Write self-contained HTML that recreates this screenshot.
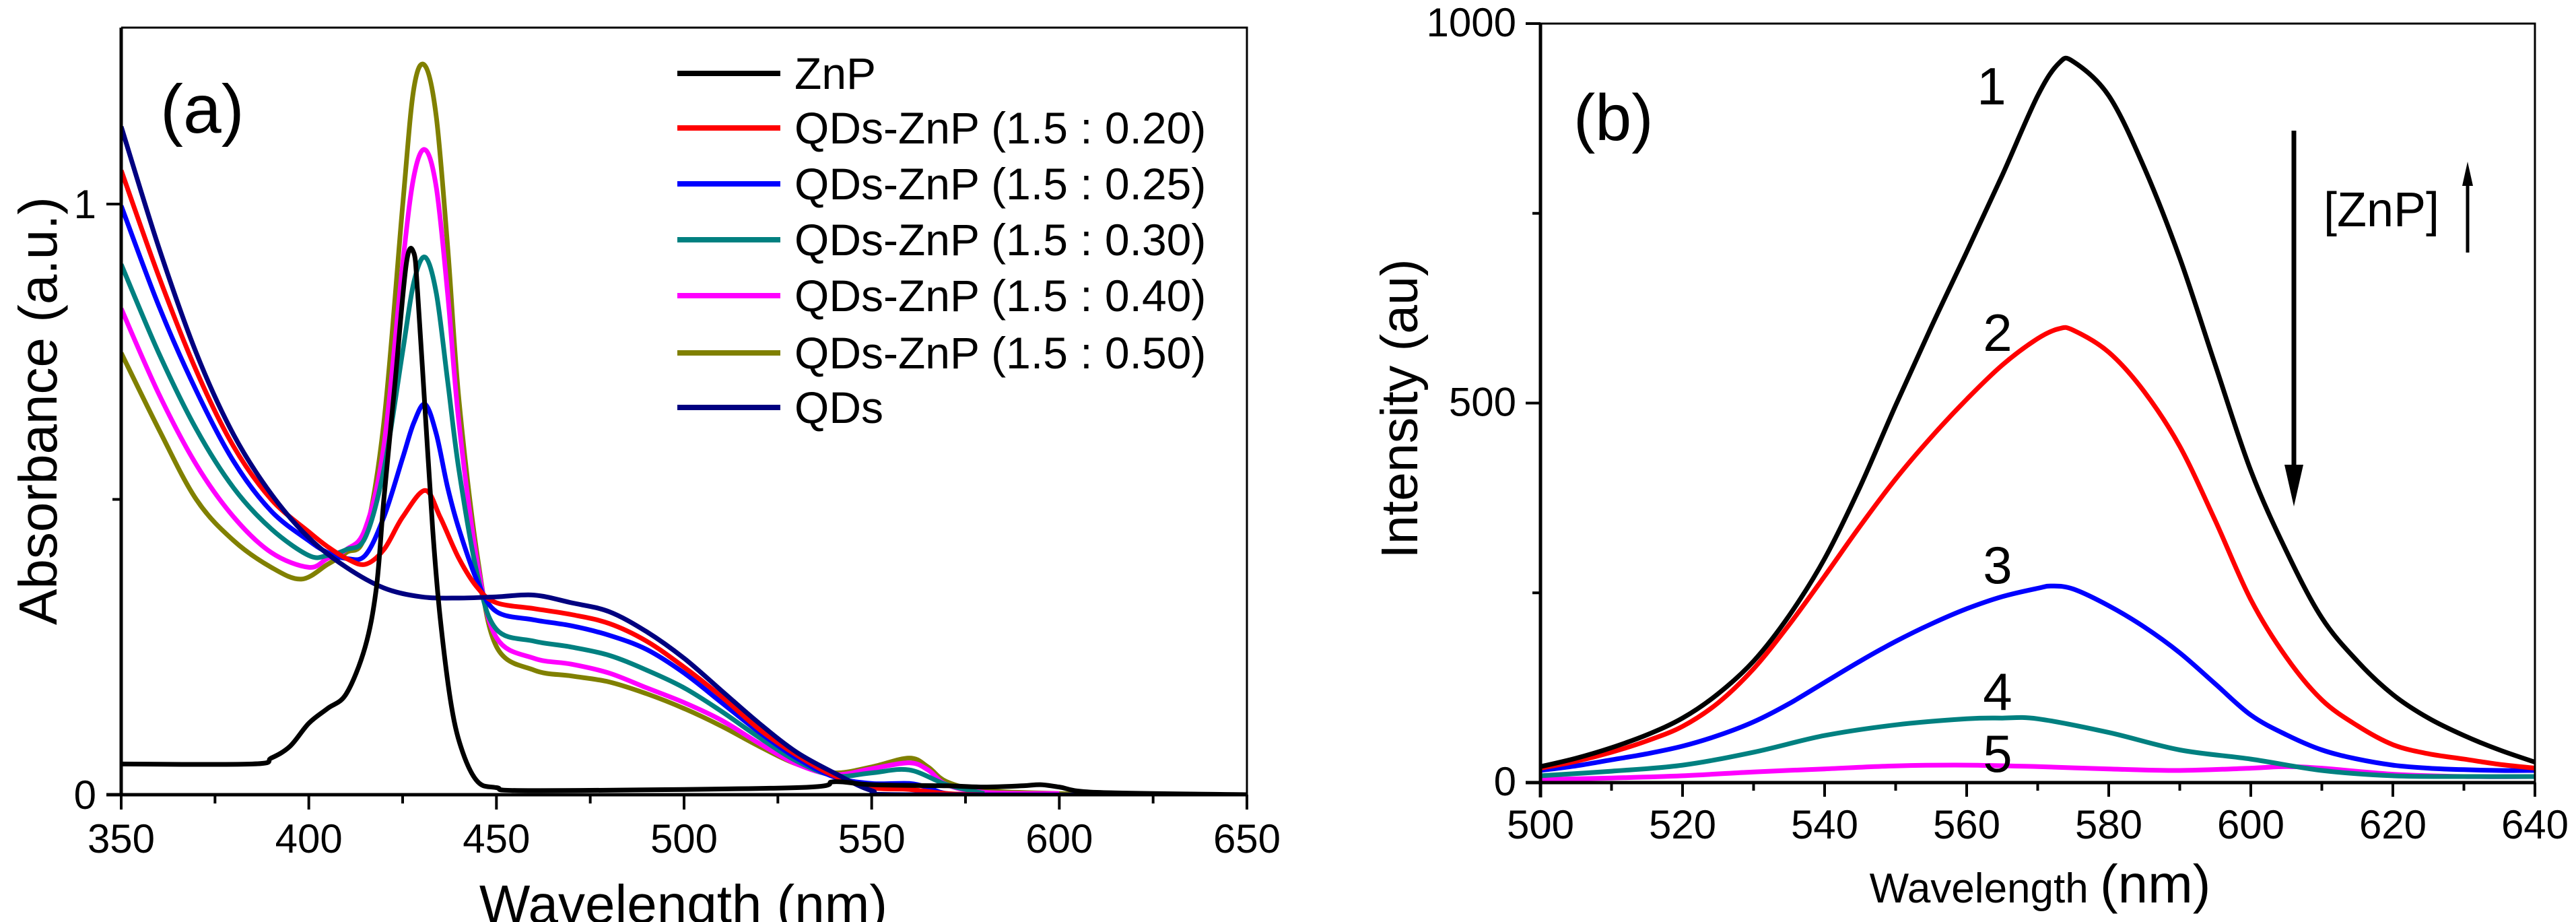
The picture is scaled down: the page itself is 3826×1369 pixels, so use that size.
<!DOCTYPE html>
<html><head><meta charset="utf-8">
<style>
html,body{margin:0;padding:0;background:#fff;}
svg{display:block;font-family:"Liberation Sans",Arial,sans-serif;}
</style></head>
<body>
<svg id="chart" width="3826" height="1369" viewBox="0 0 3826 1369" xmlns="http://www.w3.org/2000/svg">
<defs>
<clipPath id="clipA"><rect x="180" y="41" width="1672" height="1141"/></clipPath>
<clipPath id="clipB"><rect x="2288" y="35" width="1477" height="1129"/></clipPath>
</defs>
<g id="panelA"></g>
<g id="panelB"></g>
</svg>
<script>
// ---- Panel (a) data: absorbance ----
const znpX = [350,385,390,395,400,405,410,415,418,420,423,426,428,429,431,433,435,438,441,445,450,460,530,540,550,570,580,590,595,600,610,650];
const znpY = [0.052,0.052,0.062,0.082,0.121,0.146,0.171,0.25,0.35,0.50,0.70,0.90,0.917,0.85,0.65,0.45,0.30,0.15,0.072,0.022,0.012,0.007,0.012,0.022,0.017,0.015,0.013,0.015,0.017,0.013,0.004,0.0];
const r20X = [350,360,370,380,390,400,405,410,415,420,425,431,435,440,445,450,460,470,480,490,500,510,520,530,540,550,560,570,580];
const r20Y = [1.057,0.878,0.718,0.589,0.5,0.445,0.42,0.4,0.39,0.415,0.47,0.515,0.47,0.40,0.35,0.325,0.315,0.305,0.29,0.26,0.216,0.166,0.111,0.067,0.032,0.012,0.009,0.002,0.0];
const r25X = [350,360,370,380,390,400,405,410,415,420,425,428,431,434,437,440,445,450,460,470,480,490,500,510,520,530,540,550,560,565,570,580];
const r25Y = [0.997,0.828,0.684,0.564,0.48,0.43,0.41,0.4,0.405,0.47,0.57,0.63,0.661,0.61,0.52,0.45,0.36,0.31,0.296,0.286,0.27,0.246,0.206,0.156,0.106,0.062,0.03,0.019,0.019,0.012,0.002,0.0];
const r30X = [350,360,370,380,390,400,405,410,415,420,425,428,431,434,437,440,445,450,460,470,480,490,500,510,520,530,540,550,560,570,580];
const r30Y = [0.898,0.748,0.619,0.519,0.45,0.405,0.405,0.415,0.435,0.55,0.75,0.868,0.91,0.848,0.70,0.55,0.37,0.28,0.26,0.25,0.236,0.211,0.181,0.141,0.097,0.057,0.032,0.037,0.042,0.017,0.002];
const r40X = [350,360,370,380,390,400,405,410,415,420,425,428,431,434,437,440,445,450,460,470,480,490,500,510,520,530,540,550,560,565,570,580,600];
const r40Y = [0.823,0.679,0.559,0.47,0.41,0.385,0.4,0.415,0.45,0.59,0.898,1.047,1.092,1.027,0.848,0.63,0.39,0.266,0.231,0.221,0.206,0.181,0.156,0.126,0.087,0.052,0.034,0.044,0.054,0.042,0.017,0.004,0.002];
const r50X = [350,360,370,380,390,398,405,410,415,420,425,428,431,434,437,440,445,450,460,470,480,490,500,510,520,530,540,550,560,565,570,580,600,610];
const r50Y = [0.748,0.619,0.5,0.43,0.385,0.365,0.39,0.41,0.44,0.63,0.997,1.196,1.234,1.146,0.927,0.669,0.40,0.251,0.211,0.201,0.191,0.171,0.146,0.116,0.082,0.052,0.037,0.047,0.062,0.047,0.022,0.007,0.002,0.0];
const qdsX = [350,360,370,380,390,400,410,420,430,440,450,460,470,480,490,500,510,520,530,540,550,560,650];
const qdsY = [1.131,0.927,0.748,0.609,0.509,0.435,0.385,0.35,0.335,0.333,0.335,0.338,0.325,0.31,0.276,0.231,0.176,0.121,0.072,0.037,0.007,0.0,0.0];
const legendLabels = ["ZnP","QDs-ZnP (1.5 : 0.20)","QDs-ZnP (1.5 : 0.25)","QDs-ZnP (1.5 : 0.30)","QDs-ZnP (1.5 : 0.40)","QDs-ZnP (1.5 : 0.50)","QDs"];
const aXTicks = [350,400,450,500,550,600,650];
const aYTicks = [0,1];

// ---- Panel (b) data: emission intensity ----
const c1X = [500,505,510,515,520,525,530,535,540,545,550,555,560,565,570,573,575,580,585,590,595,600,605,610,615,620,625,630,635,640];
const c1Y = [21,32,46,63,85,117,160,220,295,390,497,600,699,800,905,948,950,905,810,691,550,411,305,217,160,116,85,62,43,27];
const c2X = [500,505,510,515,520,525,530,535,540,545,550,555,560,565,570,573,575,580,585,590,595,600,605,610,615,620,625,630,635,640];
const c2Y = [19,28,40,55,74,105,150,208,272,338,400,455,505,550,585,598,596,567,515,443,345,241,165,109,75,50,38,31,24,19];
const c3X = [500,505,510,515,520,525,530,535,540,545,550,555,560,565,570,572,575,580,585,590,595,600,605,610,615,620,625,630,635,640];
const c3Y = [16,22,30,38,48,62,80,104,132,160,186,209,229,245,256,259,255,233,205,171,130,89,63,43,31,23,19,17,16,16];
const c4X = [500,510,520,530,540,550,560,565,570,580,590,600,610,620,630,640];
const c4Y = [9,15,23,40,62,76,84,85,84,66,43,31,16,9,8,8];
const c5X = [500,510,520,530,540,550,560,570,580,590,600,605,610,620,630,640];
const c5Y = [4,6,9,14,18,22,23,21,18,16,19,21,19,11,8,8];
const curveLabels = ["1","2","3","4","5"];
const bXTicks = [500,520,540,560,580,600,620,640];
const bYTicks = [0,500,1000];

const NS = "http://www.w3.org/2000/svg";
function mk(tag, attrs, parent){
  const e = document.createElementNS(NS, tag);
  for (const k in attrs) e.setAttribute(k, attrs[k]);
  if (parent) parent.appendChild(e);
  return e;
}
function smoothPath(pts){
  let d = "M" + pts[0][0].toFixed(1) + "," + pts[0][1].toFixed(1);
  for (let i=0;i<pts.length-1;i++){
    const p0 = pts[i-1]||pts[i], p1=pts[i], p2=pts[i+1], p3=pts[i+2]||pts[i+1];
    const c1x = p1[0]+(p2[0]-p0[0])/6, c1y = p1[1]+(p2[1]-p0[1])/6;
    const c2x = p2[0]-(p3[0]-p1[0])/6, c2y = p2[1]-(p3[1]-p1[1])/6;
    d += " C"+c1x.toFixed(1)+","+c1y.toFixed(1)+" "+c2x.toFixed(1)+","+c2y.toFixed(1)+" "+p2[0].toFixed(1)+","+p2[1].toFixed(1);
  }
  return d;
}

// ===== Panel A =====
const A = {l:180, r:1852, t:41, y0:1180, y1:303, xmin:350, xmax:650};
const ax = v => A.l + (v - A.xmin)/(A.xmax - A.xmin)*(A.r - A.l);
const ay = v => A.y0 + (A.y1 - A.y0)*v;
const pa = document.getElementById('panelA');
const aSeries = [
  [r50X, r50Y, "#808000"],[r40X, r40Y, "#ff00ff"],[r30X, r30Y, "#008080"],
  [r25X, r25Y, "#0000ff"],[r20X, r20Y, "#ff0000"],[qdsX, qdsY, "#000080"],[znpX, znpY, "#000000"]
];
const aNames = ["series-qds-znp-050","series-qds-znp-040","series-qds-znp-030","series-qds-znp-025","series-qds-znp-020","series-qds","series-znp"];
const gA = mk('g', {'clip-path':'url(#clipA)'}, pa);
aSeries.forEach((s,i)=>{
  const pts = s[0].map((x,j)=>[ax(x), ay(s[1][j])]);
  const p = mk('path', {d:smoothPath(pts), fill:'none', stroke:s[2], 'stroke-width':7, 'stroke-linejoin':'round'}, gA);
  
  
});
// frame
let fa = mk('path', {d:`M${A.l},${A.t} H${A.r} V${A.y0}`, fill:'none', stroke:'#000', 'stroke-width':3}, pa);
 
let axA = mk('line', {x1:A.l, y1:A.t, x2:A.l, y2:A.y0+2, stroke:'#000','stroke-width':5}, pa);
 
let bxA = mk('line', {x1:A.l-22, y1:A.y0, x2:A.r, y2:A.y0, stroke:'#000','stroke-width':5}, pa);
 
for (let v=350; v<=650; v+=25){
  const major = aXTicks.includes(v);
  const t = mk('line', {x1:ax(v), y1:A.y0, x2:ax(v), y2:A.y0+(major?22:13), stroke:'#000','stroke-width':4}, pa);
   
}
aXTicks.forEach(v=>{
  const t = mk('text', {x:ax(v), y:1266, 'font-size':60, 'text-anchor':'middle'}, pa);
  t.textContent = v;
   
});
[0,0.5,1].forEach(v=>{
  const major = aYTicks.includes(v);
  const t = mk('line', {x1:A.l-(major?22:13), y1:ay(v), x2:A.l, y2:ay(v), stroke:'#000','stroke-width':4}, pa);
   
});
aYTicks.forEach(v=>{
  const t = mk('text', {x:143, y:ay(v)+21, 'font-size':60, 'text-anchor':'end'}, pa);
  t.textContent = v;
   
});
let xtA = mk('text', {x:1015, y:1370, 'font-size':80, 'text-anchor':'middle'}, pa);
xtA.textContent = "Wavelength (nm)";
 
let ytA = mk('text', {x:0, y:0, 'font-size':80, 'text-anchor':'middle', transform:'translate(84,610) rotate(-90)'}, pa);
ytA.textContent = "Absorbance (a.u.)";
 
let plA = mk('text', {x:238, y:197, 'font-size':102}, pa);
plA.textContent = "(a)";
 
const legColors = ["#000000","#ff0000","#0000ff","#008080","#ff00ff","#808000","#000080"];
const legRows = [109,190,273,356,439,524,605];
legendLabels.forEach((lab,i)=>{
  const g = mk('g', {}, pa);
   
  mk('line', {x1:1006, y1:legRows[i], x2:1159, y2:legRows[i], stroke:legColors[i], 'stroke-width':8}, g);
  const t = mk('text', {x:1180, y:legRows[i]+23, 'font-size':66}, g);
  t.textContent = lab;
});

// ===== Panel B =====
const B = {l:2288, r:3765, t:35, y0:1162, xmin:500, xmax:640, ymax:1000};
const bx = v => B.l + (v - B.xmin)/(B.xmax - B.xmin)*(B.r - B.l);
const by = v => B.y0 - v/B.ymax*(B.y0 - B.t);
const pb = document.getElementById('panelB');
const bSeries = [[c5X,c5Y,"#ff00ff"],[c4X,c4Y,"#008080"],[c3X,c3Y,"#0000ff"],[c2X,c2Y,"#ff0000"],[c1X,c1Y,"#000000"]];
const bNames = ["curve-5","curve-4","curve-3","curve-2","curve-1"];
const gB = mk('g', {'clip-path':'url(#clipB)'}, pb);
bSeries.forEach((s,i)=>{
  const pts = s[0].map((x,j)=>[bx(x), by(s[1][j])]);
  const p = mk('path', {d:smoothPath(pts), fill:'none', stroke:s[2], 'stroke-width':7, 'stroke-linejoin':'round'}, gB);
  
  
});
let fb = mk('path', {d:`M${B.l},${B.t} H${B.r} V${B.y0}`, fill:'none', stroke:'#000', 'stroke-width':3}, pb);
 
let axB = mk('line', {x1:B.l, y1:B.t, x2:B.l, y2:B.y0+22, stroke:'#000','stroke-width':5}, pb);
 
let bxB = mk('line', {x1:B.l-22, y1:B.y0, x2:B.r, y2:B.y0, stroke:'#000','stroke-width':5}, pb);
 
for (let v=500; v<=640; v+=10){
  const major = bXTicks.includes(v);
  const t = mk('line', {x1:bx(v), y1:B.y0, x2:bx(v), y2:B.y0+(major?21:12), stroke:'#000','stroke-width':4}, pb);
   
}
bXTicks.forEach(v=>{
  const t = mk('text', {x:bx(v), y:1245, 'font-size':60, 'text-anchor':'middle'}, pb);
  t.textContent = v;
   
});
for (let v=0; v<=1000; v+=250){
  const major = bYTicks.includes(v);
  const t = mk('line', {x1:B.l-(major?22:12), y1:by(v), x2:B.l, y2:by(v), stroke:'#000','stroke-width':4}, pb);
   
}
bYTicks.forEach(v=>{
  const t = mk('text', {x:2252, y:by(v)+19, 'font-size':60, 'text-anchor':'end'}, pb);
  t.textContent = v;
   
});
let xtB = mk('text', {x:3030, y:1340, 'text-anchor':'middle'}, pb);
 
const ts1 = mk('tspan', {'font-size':62}, xtB); ts1.textContent = "Wavelength ";
const ts2 = mk('tspan', {'font-size':80}, xtB); ts2.textContent = "(nm)";
let ytB = mk('text', {x:0, y:0, 'font-size':77, 'text-anchor':'middle', transform:'translate(2105,607) rotate(-90)'}, pb);
ytB.textContent = "Intensity (au)";
 
let plB = mk('text', {x:2337, y:208, 'font-size':97}, pb);
plB.textContent = "(b)";
 
const curveLabelPos = [[2958,127],[2967,493],[2967,838],[2967,1026],[2967,1118]];
curveLabels.forEach((lab,i)=>{
  const t = mk('text', {x:curveLabelPos[i][0], y:curveLabelPos[i][1]+28, 'font-size':78, 'text-anchor':'middle'}, pb);
  t.textContent = lab;
   
});
// arrows
let arrD = mk('g', {}, pb);
 
mk('line', {x1:3407, y1:194, x2:3407, y2:700, stroke:'#000','stroke-width':7}, arrD);
mk('polygon', {points:'3393,690 3421,690 3407,752', fill:'#000'}, arrD);
let arrU = mk('g', {}, pb);
 
mk('line', {x1:3665, y1:375, x2:3665, y2:270, stroke:'#000','stroke-width':5}, arrU);
mk('polygon', {points:'3657,276 3673,276 3665,240', fill:'#000'}, arrU);
let zl = mk('text', {x:3451, y:336, 'font-size':72}, pb);
zl.textContent = "[ZnP]";
 
</script>
</body></html>
